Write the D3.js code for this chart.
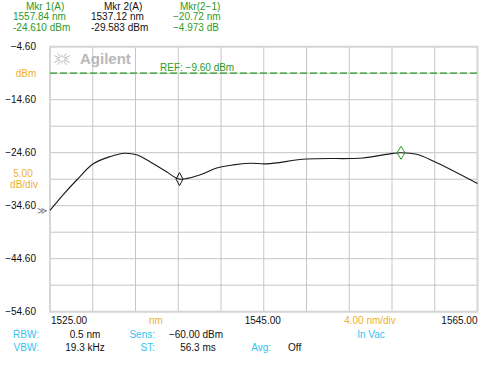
<!DOCTYPE html>
<html><head><meta charset="utf-8">
<script src="https://cdn.jsdelivr.net/npm/d3@7"></script>
<style>
html,body{margin:0;padding:0;background:#fff;}
svg{display:block;font-family:"Liberation Sans",Arial,sans-serif;}
</style></head>
<body><svg id="c" width="483" height="368"></svg>
<script>
// ---- data ----
const wavelength = [1525.0,1526.2,1527.5,1529.05,1530.6,1532.0,1533.1,1534.35,1535.9,1537.12,1539.0,1540.6,1542.15,1543.7,1545.3,1549.0,1553.1,1554.3,1557.1,1557.84,1559.3,1561.0,1565.0];
const power = [-35.5,-32.6,-29.75,-26.7,-25.35,-24.7,-25.0,-26.3,-28.2,-29.58,-28.8,-27.5,-26.9,-26.6,-26.7,-25.8,-25.7,-25.6,-24.72,-24.61,-24.9,-26.3,-30.4];
const yTicks = [-4.6,-14.6,-24.6,-34.6,-44.6,-54.6];
const xTickLabels = [[1525,"1525.00"],[1545,"1545.00"],[1565,"1565.00"]];
const refLevel = -9.6;
const markers = [{name:"1",nm:1557.84,dbm:-24.61,color:"#2a9a2a"},{name:"2",nm:1537.12,dbm:-29.583,color:"#111"}];
const headerCols = [
  {lines:["Mkr 1(A)","1557.84 nm","-24.610 dBm"],color:"#2a9a2a",x:[26,13,13]},
  {lines:["Mkr 2(A)","1537.12 nm","-29.583 dBm"],color:"#111",x:[104,91,91]},
  {lines:["Mkr(2\u22121)","\u221220.72 nm","\u22124.973 dB"],color:"#2a9a2a",x:[180,173,173]}
];

const svg = d3.select("#c");
const L=50,R=477.5,T=46.7,B=311.7;
const x = d3.scaleLinear().domain([1525,1565]).range([L,R]);
const y = d3.scaleLinear().domain([-54.6,-4.6]).range([B,T]);
const minus = s => s.replace(/-/g,"\u2212");
const green="#2a9a2a", orange="#f0b030", cyan="#33c3f0";

// grid
const g = svg.append("g");
g.selectAll(".vx").data(d3.range(1525,1565.01,4)).join("line")
  .attr("x1",d=>x(d)).attr("x2",d=>x(d)).attr("y1",T).attr("y2",B)
  .attr("stroke","#c6c6c6").attr("stroke-width",1);
g.selectAll(".hy").data(d3.range(-54.6,-4.59,5)).join("line")
  .attr("y1",d=>y(d)).attr("y2",d=>y(d)).attr("x1",L).attr("x2",R)
  .attr("stroke","#c6c6c6").attr("stroke-width",1);
g.append("rect").attr("x",L).attr("y",T).attr("width",R-L).attr("height",B-T)
  .attr("fill","none").attr("stroke","#d6d6d6").attr("stroke-width",2);

// logo
const lg = svg.append("g").attr("transform","translate(62,59)").attr("stroke","#bdbdbd").attr("stroke-width",1);
d3.range(0,360,30).forEach(a=>{
  const r=a*Math.PI/180, r1=2.5, r2=(a%90===0)?6:9;
  lg.append("line").attr("x1",r1*Math.cos(r)).attr("y1",r1*Math.sin(r)*0.75)
    .attr("x2",r2*Math.cos(r)).attr("y2",r2*Math.sin(r)*0.75);
});
svg.append("text").attr("x",80).attr("y",64).attr("font-size",15).attr("font-weight","bold")
  .attr("fill","#b8b8b8").text("Agilent");

// ref line
svg.append("line").attr("x1",L).attr("x2",R).attr("y1",y(refLevel)).attr("y2",y(refLevel))
  .attr("stroke",green).attr("stroke-width",1.2).attr("stroke-dasharray","7,3");
svg.append("text").attr("x",160).attr("y",71).attr("font-size",10).attr("fill",green).text(minus("REF: -9.60 dBm"));

// trace
const line = d3.line().x((d,i)=>x(wavelength[i])).y(d=>y(d)).curve(d3.curveCatmullRom.alpha(0.5));
svg.append("path").datum(power).attr("d",line).attr("fill","none").attr("stroke","#1a1a1a").attr("stroke-width",1.1);

// markers
markers.forEach(m=>{
  const cx=x(m.nm), cy=y(m.dbm);
  const w = m.name==="1"?4:3.5, h=6.5;
  svg.append("path").attr("d",`M${cx-w},${cy}L${cx},${cy-h}L${cx+w},${cy}L${cx},${cy+h}Z`)
    .attr("fill","none").attr("stroke",m.color).attr("stroke-width",1);
});
// ref arrow at left
svg.append("text").attr("x",37).attr("y",214).attr("font-size",10).attr("fill","#777").text("\u226B");

// y labels
svg.selectAll(".yl").data(yTicks).join("text").attr("x",36).attr("y",d=>y(d)+3.5)
  .attr("text-anchor","end").attr("font-size",10).attr("fill","#111").text(d=>minus(d.toFixed(2)));
svg.append("text").attr("x",26).attr("y",77).attr("text-anchor","middle").attr("font-size",10).attr("fill",orange).text("dBm");
svg.append("text").attr("x",23).attr("y",177).attr("text-anchor","middle").attr("font-size",10).attr("fill",orange).text("5.00");
svg.append("text").attr("x",24).attr("y",188).attr("text-anchor","middle").attr("font-size",10).attr("fill",orange).text("dB/div");

// x labels
xTickLabels.forEach(([v,t],i)=>{
  svg.append("text").attr("x",i===0?x(v)+1:(i===2?x(v):x(v)-1)).attr("y",324)
    .attr("text-anchor",i===0?"start":(i===2?"end":"middle")).attr("font-size",10).attr("fill","#111").text(t);
});
svg.append("text").attr("x",156).attr("y",324).attr("text-anchor","middle").attr("font-size",10).attr("fill",orange).text("nm");
svg.append("text").attr("x",370).attr("y",324).attr("text-anchor","middle").attr("font-size",10).attr("fill",orange).text("4.00 nm/div");

// header
headerCols.forEach(c=>{
  c.lines.forEach((t,i)=>{
    svg.append("text").attr("x",c.x[i]).attr("y",9.5+i*10.5).attr("font-size",10).attr("fill",c.color).text(t);
  });
});

// footer
const foot = [
  {t:"RBW:",x:39,y:338,a:"end",c:cyan},{t:"0.5 nm",x:85,y:338,a:"middle",c:"#111"},
  {t:"Sens:",x:155,y:338,a:"end",c:cyan},{t:minus("-60.00 dBm"),x:196,y:338,a:"middle",c:"#111"},
  {t:"In Vac",x:371,y:338,a:"middle",c:cyan},
  {t:"VBW:",x:39,y:351,a:"end",c:cyan},{t:"19.3 kHz",x:85,y:351,a:"middle",c:"#111"},
  {t:"ST:",x:155,y:351,a:"end",c:cyan},{t:"56.3 ms",x:198,y:351,a:"middle",c:"#111"},
  {t:"Avg:",x:271,y:351,a:"end",c:cyan},{t:"Off",x:288,y:351,a:"start",c:"#111"}
];
svg.selectAll(".ft").data(foot).join("text").attr("x",d=>d.x).attr("y",d=>d.y)
  .attr("text-anchor",d=>d.a).attr("font-size",10).attr("fill",d=>d.c).text(d=>d.t);
</script></body></html>
